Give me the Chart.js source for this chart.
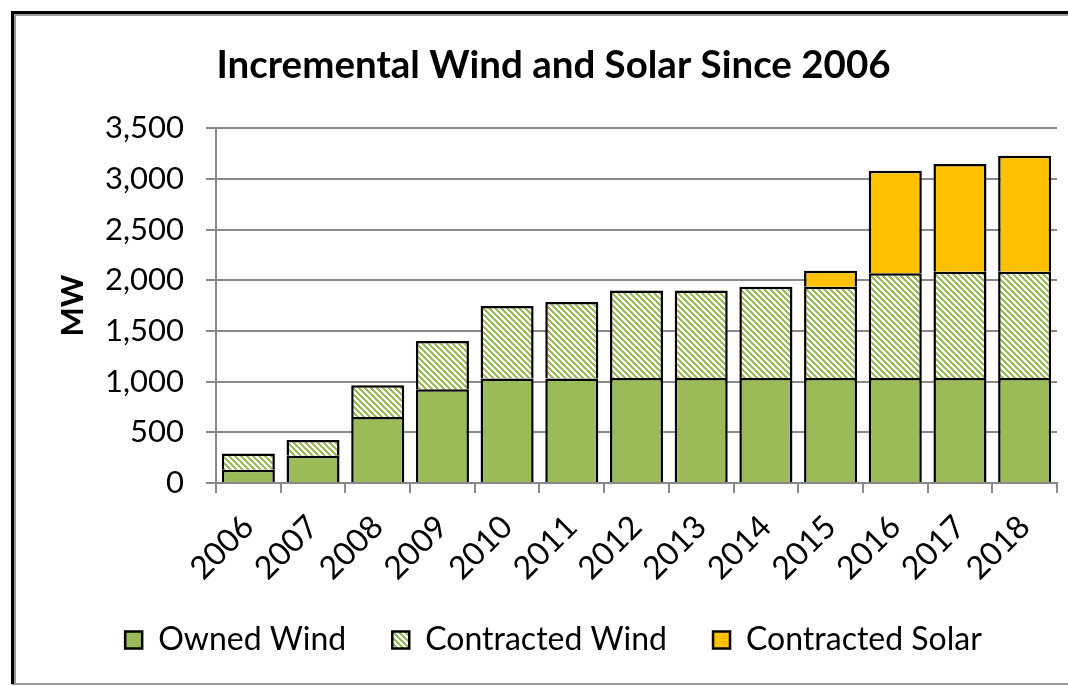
<!DOCTYPE html>
<html>
<head>
<meta charset="utf-8">
<script src="https://cdn.jsdelivr.net/npm/chart.js@4.4.1/dist/chart.umd.min.js"></script>
<style>
  html, body { margin: 0; padding: 0; background: #fff; }
  #wrap { width: 1068px; height: 686px; position: relative; }
</style>
</head>
<body>
<div id="wrap"><canvas id="chart"></canvas></div>
<script>
const anni = ["2006", "2007", "2008", "2009", "2010", "2011", "2012", "2013", "2014", "2015", "2016", "2017", "2018"];
const eolicoProprio = [130, 270, 650, 925, 1030, 1030, 1035, 1035, 1035, 1035, 1035, 1035, 1035];
const eolicoContratto = [160, 155, 315, 475, 715, 755, 865, 865, 900, 900, 1033, 1049, 1049];
const solareContratto = [0, 0, 0, 0, 0, 0, 0, 0, 0, 160, 1012, 1062, 1144];

const VERDE = "#9BBB59";
const GIALLO = "#FFC000";
const GRIGIO = "#898989";

// tratteggio diagonale verde/bianco
function creaTratteggio() {
  const n = 6;
  const c = document.createElement("canvas");
  c.width = n; c.height = n;
  const g = c.getContext("2d");
  g.fillStyle = "#fff";
  g.fillRect(0, 0, n, n);
  g.fillStyle = VERDE;
  for (let x = 0; x < n; x++) {
    for (let y = 0; y < n; y++) {
      if ((((x - y) % n) + n) % n < 3) g.fillRect(x, y, 1, 1);
    }
  }
  return g.createPattern(c, "repeat");
}

// cornice del grafico
const cornice = {
  id: "cornice",
  beforeDraw(chart) {
    const ctx = chart.ctx;
    ctx.save();
    ctx.fillStyle = "#fff";
    ctx.fillRect(0, 0, chart.width, chart.height);
    ctx.strokeStyle = "#999";
    ctx.lineWidth = 2;
    ctx.beginPath();
    ctx.moveTo(15, chart.height - 2);
    ctx.lineTo(15, 15);
    ctx.lineTo(chart.width, 15);
    ctx.moveTo(12, chart.height - 2);
    ctx.lineTo(chart.width, chart.height - 2);
    ctx.stroke();
    ctx.strokeStyle = "#000";
    ctx.lineWidth = 3;
    ctx.beginPath();
    ctx.moveTo(12.5, chart.height - 2);
    ctx.lineTo(12.5, 12.5);
    ctx.lineTo(chart.width, 12.5);
    ctx.stroke();
    ctx.restore();
  }
};

const base = { borderColor: "#000", borderWidth: 2.5, barPercentage: 0.82, categoryPercentage: 1 };

new Chart(document.getElementById("chart"), {
  type: "bar",
  data: {
    labels: anni,
    datasets: [
      Object.assign({ label: "Owned Wind", data: eolicoProprio, backgroundColor: VERDE }, base),
      Object.assign({ label: "Contracted Wind", data: eolicoContratto, backgroundColor: creaTratteggio() }, base),
      Object.assign({ label: "Contracted Solar", data: solareContratto, backgroundColor: GIALLO }, base)
    ]
  },
  options: {
    responsive: true,
    maintainAspectRatio: false,
    animation: false,
    layout: { padding: { left: 50, right: 11, top: 12, bottom: 20 } },
    plugins: {
      tooltip: { enabled: false },
      title: {
        display: true,
        text: "Incremental Wind and Solar Since 2006",
        color: "#000",
        font: { family: "Lato", size: 38.5, weight: "bold" },
        padding: { top: 30, bottom: 40 }
      },
      legend: {
        position: "bottom",
        labels: {
          color: "#000",
          font: { family: "Lato", size: 32 },
          boxWidth: 17,
          boxHeight: 17,
          padding: 46
        }
      }
    },
    scales: {
      x: {
        stacked: true,
        grid: { display: true, drawOnChartArea: false, offset: true, color: GRIGIO, lineWidth: 2, tickLength: 10 },
        border: { color: GRIGIO, width: 2 },
        ticks: { color: "#000", font: { family: "Lato", size: 32 }, maxRotation: 45, minRotation: 45, padding: 15, autoSkip: false },
        afterFit: s => {
          s.height = 95;
          // le etichette ruotate non vanno tagliate
          s._computeLabelArea = () => undefined;
        }
      },
      y: {
        stacked: true,
        min: 0,
        max: 3500,
        ticks: {
          stepSize: 500,
          color: "#000",
          font: { family: "Lato", size: 31 },
          padding: 22,
          callback: v => v.toLocaleString("en-US")
        },
        grid: { color: GRIGIO, lineWidth: 2, tickLength: 10 },
        border: { color: GRIGIO, width: 2 },
        title: {
          display: true,
          text: "MW",
          color: "#000",
          font: { family: "Lato", size: 31, weight: "bold" },
          padding: { top: 4, bottom: 0 }
        },
        afterFit: s => { s.width = 166; }
      }
    }
  },
  plugins: [cornice]
});
</script>
</body>
</html>
